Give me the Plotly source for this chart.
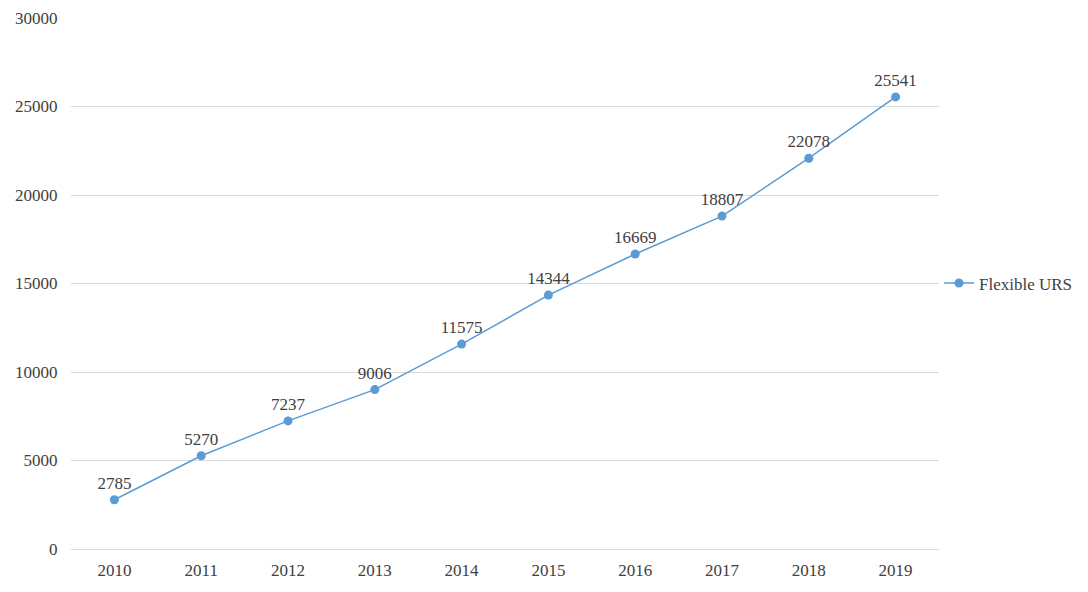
import plotly.graph_objects as go

years = ['2010', '2011', '2012', '2013', '2014', '2015', '2016', '2017', '2018', '2019']
urs_counts = [2785, 5270, 7237, 9006, 11575, 14344, 16669, 18807, 22078, 25541]

text_color = '#404040'
line_color = '#5B9BD5'
serif = 'Times New Roman, Liberation Serif, serif'

trace = go.Scatter(
    x=years,
    y=urs_counts,
    mode='lines+markers+text',
    name='Flexible URS',
    text=[str(v) for v in urs_counts],
    textposition='top center',
    textfont=dict(family=serif, size=17, color=text_color),
    line=dict(color=line_color, width=1.5),
    marker=dict(color=line_color, size=9),
)

fig = go.Figure(data=[trace])
# the page body keeps an 8px margin, so the figure is sized and offset for it
fig.update_layout(
    width=1080,
    height=584,
    margin=dict(l=63, r=142, t=10, b=43),
    paper_bgcolor='white',
    plot_bgcolor='white',
    font=dict(family=serif, size=17, color=text_color),
    showlegend=True,
    legend=dict(x=1.0, y=0.5, xanchor='left', yanchor='middle',
                font=dict(family=serif, size=17, color=text_color)),
    xaxis=dict(
        type='category',
        range=[-0.5, 9.5],
        automargin=False,
        showgrid=False,
        showline=False,
        ticks='outside',
        ticklen=6,
        tickcolor='rgba(0,0,0,0)',
    ),
    yaxis=dict(
        range=[0, 30000],
        dtick=5000,
        tickformat='d',
        automargin=False,
        showgrid=True,
        gridcolor='#D9D9D9',
        gridwidth=1,
        zeroline=True,
        zerolinecolor='#D9D9D9',
        zerolinewidth=1,
        ticks='outside',
        ticklen=9,
        tickcolor='rgba(0,0,0,0)',
    ),
)

fig.write_html("out.html")
